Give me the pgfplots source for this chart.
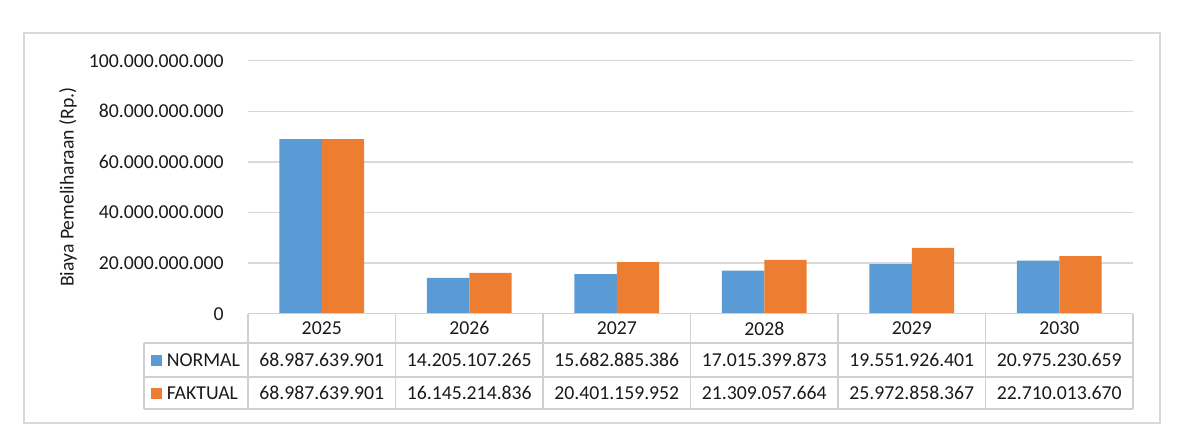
\documentclass[border=0pt]{standalone}
\usepackage{pgfplots}
\pgfplotsset{compat=1.18}
\usepackage{pgfplotstable}
\usepackage{fontspec}
\setmainfont{Carlito}

\definecolor{normalblue}{HTML}{5B9BD5}
\definecolor{faktualorange}{HTML}{ED7D31}
\definecolor{gridgray}{HTML}{D9D9D9}
\definecolor{tablegray}{HTML}{D0D0D0}
\definecolor{textgray}{HTML}{1A1A1A}

% Maintenance cost per year (Rp.), with the printed form of each value
\pgfplotstableread{
x year normal nlbl faktual flbl
0 2025 68987639901 68.987.639.901 68987639901 68.987.639.901
1 2026 14205107265 14.205.107.265 16145214836 16.145.214.836
2 2027 15682885386 15.682.885.386 20401159952 20.401.159.952
3 2028 17015399873 17.015.399.873 21309057664 21.309.057.664
4 2029 19551926401 19.551.926.401 25972858367 25.972.858.367
5 2030 20975230659 20.975.230.659 22710013670 22.710.013.670
}\costs

\begin{document}
\begin{tikzpicture}[x=0.75pt, y=0.75pt, font=\fontsize{14.8}{17}\selectfont, text=textgray]
\path[use as bounding box] (0,0) rectangle (1180,439);
% chart frame
\draw[gridgray, line width=1.5pt] (24,16) rectangle (1160,406);

\begin{axis}[
  at={(186pt,93.975pt)}, anchor=south west,
  scale only axis, width=663.75pt, height=189.75pt,
  xmin=-0.5, xmax=5.5, ymin=0, ymax=1e11,
  clip=false,
  axis line style={draw=none}, tick style={draw=none},
  ymajorgrids, grid style={gridgray, line width=1.1pt},
  ytick={0,2e10,4e10,6e10,8e10,1e11},
  yticklabels={0,20.000.000.000,40.000.000.000,60.000.000.000,80.000.000.000,100.000.000.000},
  scaled y ticks=false,
  yticklabel style={anchor=east, inner sep=0pt, xshift=-18pt},
  xtick={0,...,5}, xticklabels from table={\costs}{year},
  xticklabel style={anchor=center, inner sep=0pt, yshift=-11pt},
  tick label style={font=\fontsize{14.8}{17}\selectfont, text=textgray},
  ylabel={Biaya Pemeliharaan (Rp.)},
  ylabel style={at={(axis description cs:-0.2034,0.5)}, anchor=center,
                font=\fontsize{14.8}{17}\selectfont, text=textgray},
]
\addplot[ybar, fill=normalblue, draw=none, bar width=0.2866, bar shift=-0.1433]
  table[x=x, y=normal]{\costs};
\addplot[ybar, fill=faktualorange, draw=none, bar width=0.2866, bar shift=0.1433]
  table[x=x, y=faktual]{\costs};
% data table rows below the plot
\addplot[forget plot, draw=none, mark=none, nodes near coords={\pgfplotspointmeta},
  point meta=explicit symbolic,
  nodes near coords style={anchor=center, inner sep=0pt, text=textgray}]
  table[x=x, y expr=-1.83e10, meta=nlbl]{\costs};
\addplot[forget plot, draw=none, mark=none, nodes near coords={\pgfplotspointmeta},
  point meta=explicit symbolic,
  nodes near coords style={anchor=center, inner sep=0pt, text=textgray}]
  table[x=x, y expr=-3.134e10, meta=flbl]{\costs};
\end{axis}

% data table grid
\begin{scope}[tablegray, line width=1.2pt]
  \draw (248,125.3) -- (1133,125.3);
  \draw (144,96) -- (1133,96);
  \draw (144,62) -- (1133,62);
  \draw (144,30) -- (1133,30);
  \draw (144,30) -- (144,96);
  \foreach \k in {0,...,6} {
    \draw ({248+147.5*\k},30) -- ({248+147.5*\k},125.3);
  }
\end{scope}
% legend keys in the table
\fill[normalblue] (151,73.5) rectangle (162,84.5);
\node[anchor=west, inner sep=0pt] at (166.5,79) {NORMAL};
\fill[faktualorange] (151,40.5) rectangle (162,51.5);
\node[anchor=west, inner sep=0pt] at (166.5,46) {FAKTUAL};
\end{tikzpicture}
\end{document}
